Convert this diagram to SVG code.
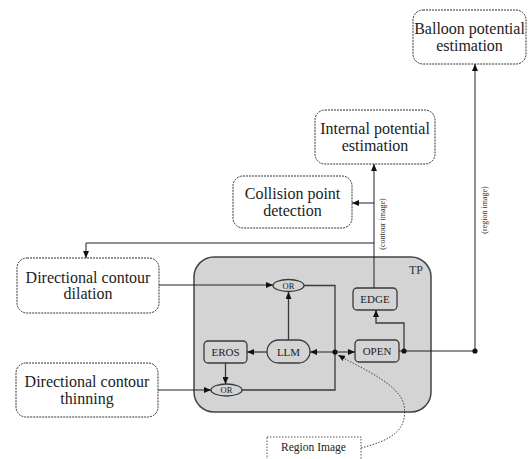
<svg xmlns="http://www.w3.org/2000/svg" width="528" height="459" viewBox="0 0 528 459">
<style>
.ext{fill:#fff;stroke:#333;stroke-width:1;stroke-dasharray:2,1}
.big{font-family:"Liberation Serif","Times New Roman",serif;font-size:16px;fill:#222;text-anchor:middle}
.in{fill:#d4d4d4;stroke:#3a3a3a;stroke-width:1.3}
.sm{font-family:"Liberation Serif","Times New Roman",serif;font-size:11px;fill:#222;text-anchor:middle}
.or{font-family:"Liberation Serif","Times New Roman",serif;font-size:8.5px;fill:#222;text-anchor:middle}
.lbl{font-family:"Liberation Serif","Times New Roman",serif;font-size:8px;fill:#333;text-anchor:middle}
.c{fill:none;stroke:#222;stroke-width:1}
.ci{fill:none;stroke:#3a3a3a;stroke-width:1.3}
.a{marker-end:url(#ah)}
.dot{fill:#111}
</style>
<defs>
<marker id="ah" markerUnits="userSpaceOnUse" markerWidth="7" markerHeight="6" refX="7" refY="3" orient="auto">
<path d="M0,0 L7,3 L0,6 z" fill="#111"/>
</marker>
</defs>

<g id="TP">
<rect x="194" y="257" width="237" height="155" rx="20" fill="#d4d4d4" stroke="#444" stroke-width="1.5"/>
<text x="423" y="274" font-family="Liberation Serif, serif" font-size="12" fill="#333" text-anchor="end">TP</text>
</g>

<g id="balloon">
<rect class="ext" x="413" y="10" width="113" height="54" rx="10"/>
<text class="big" x="469.5" y="34">Balloon potential</text>
<text class="big" x="469.5" y="51">estimation</text>
</g>
<g id="internal">
<rect class="ext" x="315" y="110" width="120" height="54" rx="10"/>
<text class="big" x="375" y="134">Internal potential</text>
<text class="big" x="375" y="151">estimation</text>
</g>
<g id="collision">
<rect class="ext" x="233" y="176" width="119" height="52" rx="10"/>
<text class="big" x="292.5" y="199">Collision point</text>
<text class="big" x="292.5" y="216">detection</text>
</g>
<g id="dilation">
<rect class="ext" x="17" y="258" width="142" height="55" rx="10"/>
<text class="big" x="88" y="283">Directional contour</text>
<text class="big" x="88" y="299">dilation</text>
</g>
<g id="thinning">
<rect class="ext" x="16" y="363" width="142" height="54" rx="10"/>
<text class="big" x="87" y="387">Directional contour</text>
<text class="big" x="87" y="404">thinning</text>
</g>

<g id="or1">
<ellipse class="in" cx="288.5" cy="285.5" rx="15.5" ry="6"/>
<text class="or" x="288.5" y="288.5">OR</text>
</g>
<g id="or2">
<ellipse class="in" cx="226.5" cy="390" rx="15.5" ry="6"/>
<text class="or" x="226.5" y="393">OR</text>
</g>
<g id="eros">
<rect class="in" x="204" y="341" width="43" height="22" rx="4"/>
<text class="sm" x="225.5" y="356">EROS</text>
</g>
<g id="llm">
<rect class="in" x="267" y="340" width="43" height="23" rx="11.5"/>
<text class="sm" x="288.5" y="355.5">LLM</text>
</g>
<g id="open">
<rect class="in" x="355" y="340" width="44" height="22" rx="4"/>
<text class="sm" x="377" y="355">OPEN</text>
</g>
<g id="edge">
<rect class="in" x="353" y="288" width="44" height="22" rx="4"/>
<text class="sm" x="375" y="303">EDGE</text>
</g>

<g id="region">
<rect x="267" y="437" width="94" height="30" fill="#fff" stroke="#555" stroke-width="1" stroke-dasharray="1.5,1.5"/>
<text x="313.5" y="451" font-family="Liberation Serif, serif" font-size="11.5" fill="#222" text-anchor="middle">Region Image</text>
</g>

<g id="connectors">
<path class="c a" d="M159,285 H273"/>
<path class="c a" d="M158,390 H211"/>
<path class="ci" d="M304,285.5 H335 V390 H242"/>
<path class="ci a" d="M288.5,340 V292"/>
<path class="ci a" d="M267,352 H247"/>
<path class="ci a" d="M225.5,363 V384"/>
<path class="c a" d="M335,352 H310"/>
<path class="c a" d="M335,352 H355"/>
<path class="c" d="M399,351 H475"/>
<path class="ci a" d="M404,351 V323 H376 V310"/>
<path class="c a" d="M374,288 V164"/>
<path class="c a" d="M374,203 H352"/>
<path class="c a" d="M374,243 H86 V258"/>
<path class="c a" d="M475,351 V64"/>
<path fill="none" stroke="#444" stroke-width="1" stroke-dasharray="1.5,1.5" marker-end="url(#ah)" d="M361,448 C392,440 408,430 404,405 C400,385 365,370 338,355"/>
<circle class="dot" cx="335" cy="352" r="2.6"/>
<circle class="dot" cx="404" cy="351" r="2.6"/>
<circle class="dot" cx="475" cy="351" r="2.6"/>
<text class="lbl" transform="rotate(-90 385 224)" x="385" y="224">(contour image)</text>
<text class="lbl" transform="rotate(-90 487 210)" x="487" y="210">(region image)</text>
</g>
</svg>
